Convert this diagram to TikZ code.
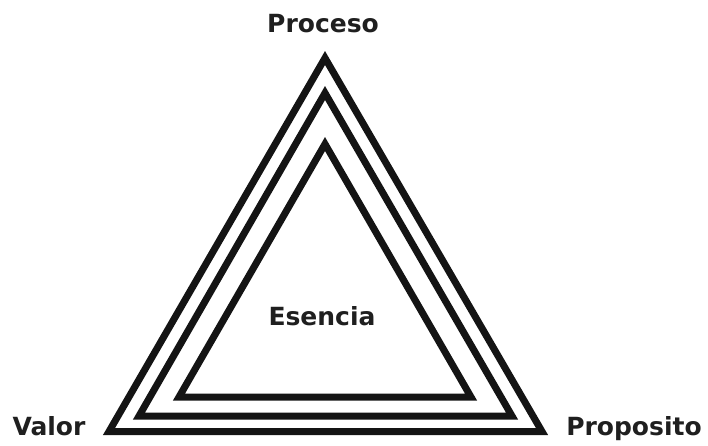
\documentclass[tikz,border=0pt]{standalone}
\usepackage{fontspec}
\newfontfamily\labelfont{DejaVu Sans}
\begin{document}
\begin{tikzpicture}[x=1pt,y=-1pt,every node/.style={font=\labelfont\bfseries\fontsize{25}{30}\selectfont,text=black!88,anchor=base,inner sep=0pt}]
    \useasboundingbox (0,0) rectangle (708,445);
    \tikzset{tri/.style={line width=7pt,line join=miter,black!92}}
    \draw[tri] (325,58) -- (542,431.5) -- (109,431.5) -- cycle;
    \draw[tri] (325,93) -- (512,416) -- (139,416) -- cycle;
    \draw[tri] (325,144) -- (471,397) -- (179,397) -- cycle;
    \node (proceso) at (323,32) {Proceso};
    \node (valor) at (49,435) {Valor};
    \node (proposito) at (634,435) {Proposito};
    \node (esencia) at (322,325) {Esencia};
\end{tikzpicture}
\end{document}
